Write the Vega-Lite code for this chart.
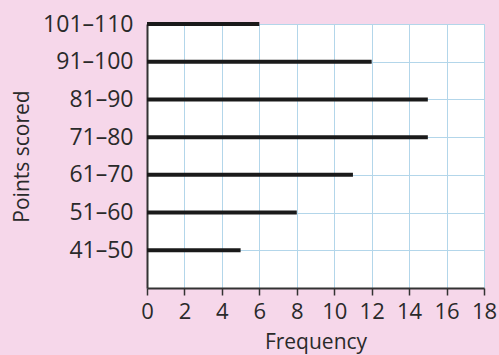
{
  "$schema": "https://vega.github.io/schema/vega-lite/v6.json",
  "autosize": "none",
  "width": 337,
  "height": 264,
  "padding": {"left": 147, "top": 24, "right": 15, "bottom": 67},
  "background": "#f6d7ea",
  "config": {
    "font": "Open Sans",
    "view": {"fill": "#ffffff", "stroke": "#b3d6ea", "strokeWidth": 1}
  },
  "data": {
    "values": [
      {"points": "101–110", "frequency": 6},
      {"points": "91–100", "frequency": 12},
      {"points": "81–90", "frequency": 15},
      {"points": "71–80", "frequency": 15},
      {"points": "61–70", "frequency": 11},
      {"points": "51–60", "frequency": 8},
      {"points": "41–50", "frequency": 5}
    ]
  },
  "mark": {"type": "bar", "orient": "horizontal", "size": 4, "color": "#1a1a1a"},
  "encoding": {
    "y": {
      "field": "points",
      "type": "ordinal",
      "scale": {
        "type": "point",
        "padding": 0,
        "domain": ["101–110", "91–100", "81–90", "71–80", "61–70", "51–60", "41–50", " "]
      },
      "axis": {
        "title": "Points scored",
        "titleFont": "Open Sans",
        "titleFontSize": 21,
        "titleFontWeight": "normal",
        "titleColor": "#2a2a2a",
        "titlePadding": 10,
        "labelFont": "Open Sans",
        "labelFontSize": 23,
        "labelColor": "#2a2a2a",
        "labelPadding": 14,
        "ticks": false,
        "domainColor": "#333333",
        "domainWidth": 2,
        "grid": true,
        "gridColor": "#b3d6ea",
        "gridWidth": 1
      }
    },
    "x": {
      "field": "frequency",
      "type": "quantitative",
      "scale": {"domain": [0, 18], "nice": false},
      "axis": {
        "title": "Frequency",
        "titleFont": "Open Sans",
        "titleFontSize": 21,
        "titleFontWeight": "normal",
        "titleColor": "#2a2a2a",
        "titlePadding": 9,
        "values": [0, 2, 4, 6, 8, 10, 12, 14, 16, 18],
        "labelFont": "Open Sans",
        "labelFontSize": 22,
        "labelColor": "#2a2a2a",
        "labelPadding": 6,
        "labelFlush": false,
        "tickColor": "#333333",
        "tickSize": 7,
        "tickWidth": 1.5,
        "domainColor": "#333333",
        "domainWidth": 2,
        "grid": true,
        "gridColor": "#b3d6ea",
        "gridWidth": 1
      }
    }
  }
}
